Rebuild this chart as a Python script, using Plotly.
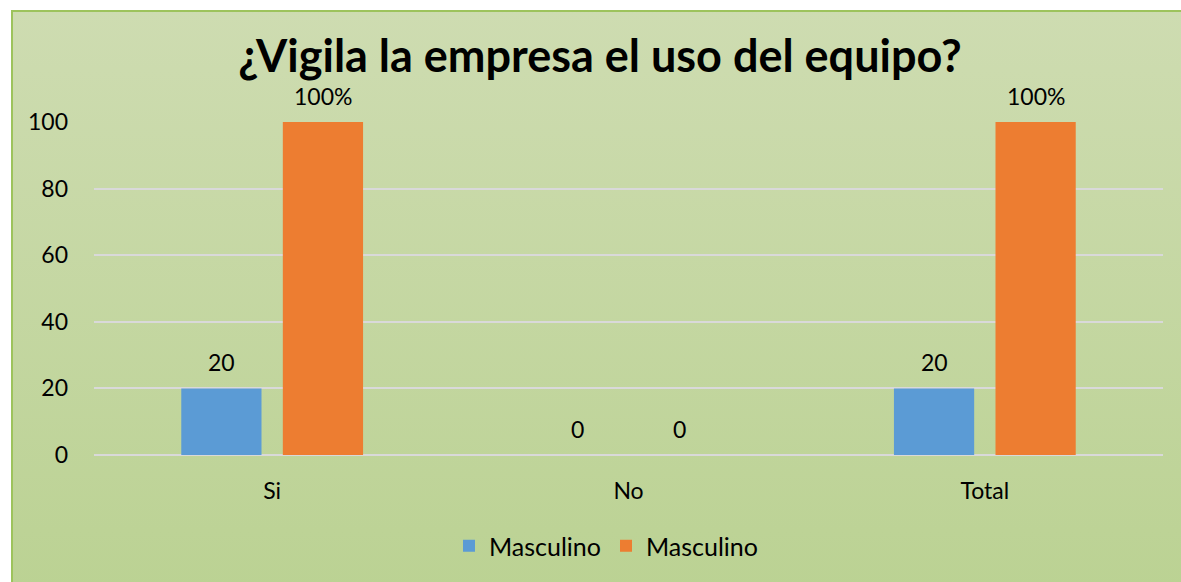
import base64
import plotly.graph_objects as go

categories = ["Si", "No", "Total"]
series_names = ["Masculino", "Masculino"]
values_blue = [20, 0, 20]
values_orange = [100, 0, 100]
labels_blue = ["20", "0", "20"]
labels_orange = ["100%", "0", "100%"]
y_ticks = [0, 20, 40, 60, 80, 100]

FONT = "Lato"
FS = 23
W, H = 1181, 582
L, R, T, B = 94, 18, 122, 127
pw, ph = W - L - R, H - T - B

# background panel with gradient and border
bx0, by0, bx1, by1 = 11, 10, 1186, 590
sw, sh = bx1 - bx0, by1 - by0
svg = f'''<svg xmlns="http://www.w3.org/2000/svg" width="{sw}" height="{sh}" viewBox="0 0 {sw} {sh}" preserveAspectRatio="none">
<defs><linearGradient id="g" x1="0" y1="0" x2="0" y2="1">
<stop offset="0" stop-color="#cedcb1"/><stop offset="1" stop-color="#bbd293"/></linearGradient></defs>
<rect x="0" y="0" width="{sw}" height="{sh}" fill="url(#g)"/>
<rect x="1" y="1" width="{sw+4}" height="{sh+4}" fill="none" stroke="#9dc35c" stroke-width="2"/>
</svg>'''
src = "data:image/svg+xml;base64," + base64.b64encode(svg.encode()).decode()

def px2x(px):
    return (px - L) / pw

def py2y(py):
    return (H - B - py) / ph

BARGAP, GROUPGAP = 0.43, 0.21
slot_px = pw / len(categories) * (1 - BARGAP) / 2

fig = go.Figure()
fig.add_trace(go.Bar(x=categories, y=values_blue, name=series_names[0],
                     marker_color="#5b9bd5", marker_line_width=0))
fig.add_trace(go.Bar(x=categories, y=values_orange, name=series_names[1],
                     marker_color="#ed7d31", marker_line_width=0))

# data labels placed above each bar
for vals, labs, side in [(values_blue, labels_blue, -1), (values_orange, labels_orange, 1)]:
    for c, v, t in zip(categories, vals, labs):
        fig.add_annotation(x=c, y=v, xref="x", yref="y", text=t, showarrow=False,
                           xshift=side * slot_px / 2, yshift=26, yanchor="middle",
                           font=dict(size=FS, family=FONT, color="#000000"))

fig.add_layout_image(dict(source=src, xref="paper", yref="paper",
                          x=px2x(bx0), y=py2y(by0), sizex=px2x(bx1) - px2x(bx0),
                          sizey=py2y(by0) - py2y(by1), xanchor="left", yanchor="top",
                          sizing="stretch", layer="below"))

fig.update_layout(
    width=W, height=H,
    margin=dict(l=L, r=R, t=T, b=B),
    paper_bgcolor="white", plot_bgcolor="rgba(0,0,0,0)",
    barmode="group", bargap=BARGAP, bargroupgap=GROUPGAP,
    font=dict(family=FONT, size=FS, color="#000000"),
    title=dict(text="<b>¿Vigila la empresa el uso del equipo?</b>", x=0.508, xanchor="center",
               y=1 - 56 / H, yanchor="middle", font=dict(size=45, family=FONT, color="#000000")),
    legend=dict(orientation="h", x=px2x(449), xanchor="left", y=py2y(546), yanchor="middle",
                font=dict(size=25, family=FONT), bgcolor="rgba(0,0,0,0)", traceorder="normal"),
)
fig.update_xaxes(showgrid=False, showline=False, ticks="", tickfont=dict(size=FS),
                 ticklabelstandoff=20)
fig.update_yaxes(range=[0, 100], tickvals=y_ticks, showgrid=True, gridcolor="#d9d9d9",
                 gridwidth=2, zeroline=True, zerolinecolor="#d9d9d9", zerolinewidth=2,
                 showline=False, ticks="", ticklabelstandoff=25, tickfont=dict(size=FS))

fig.write_html("out.html", config={"displayModeBar": False},
               post_script="document.body.style.margin='0';")
